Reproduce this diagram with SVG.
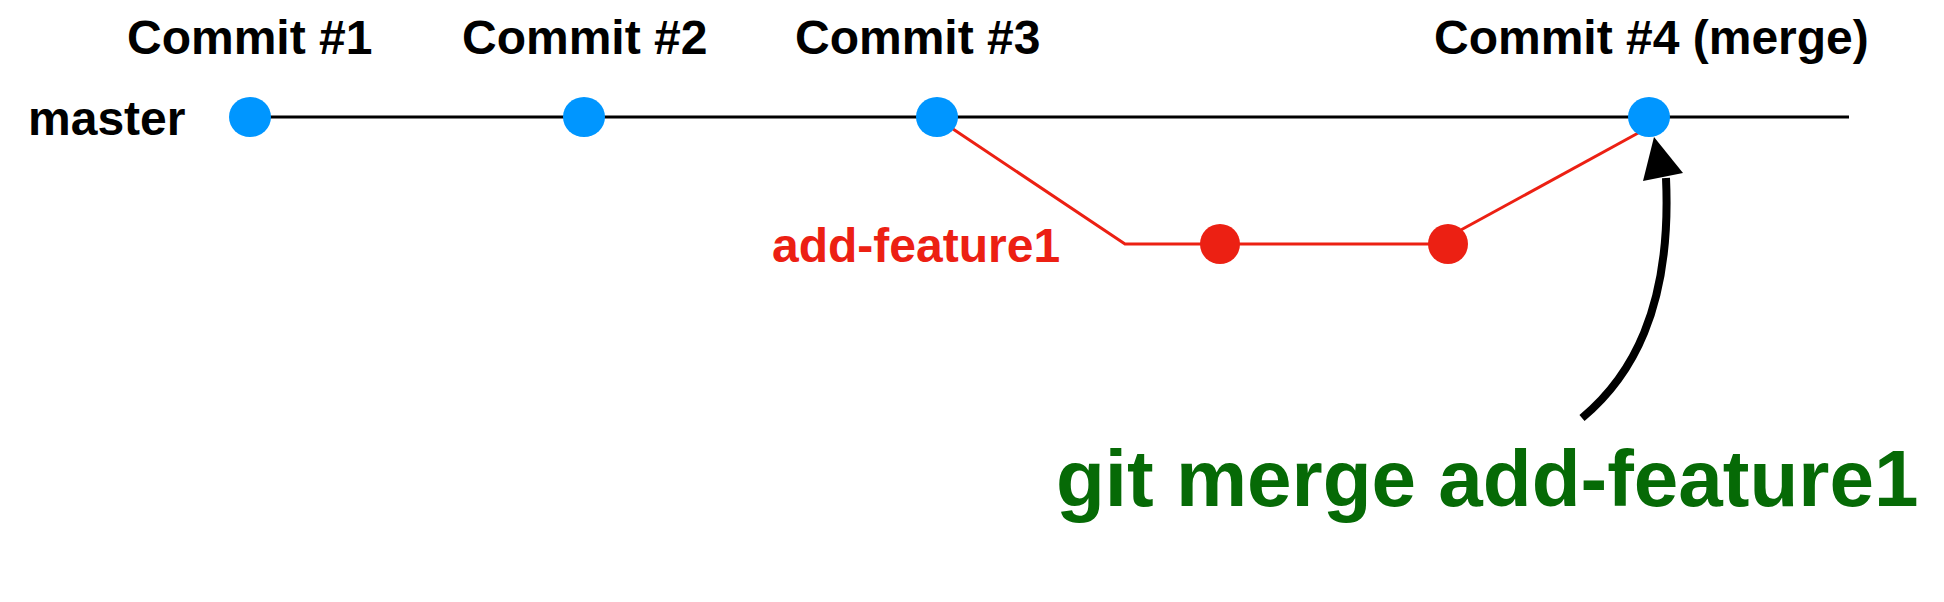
<svg xmlns="http://www.w3.org/2000/svg" width="1944" height="602" viewBox="0 0 1944 602">
<style>
text{font-family:"Liberation Sans",Arial,sans-serif;font-weight:bold}
.lbl{font-size:48px;fill:#000}
.red{font-size:48px;fill:#EC2013}
.cmd{font-size:80px;fill:#066A06}
.master{stroke:#000;stroke-width:3;fill:none}
.branch{stroke:#EC2013;stroke-width:3;fill:none}
.blue{fill:#0096FF}
.rdot{fill:#EC2013}
</style>
<rect width="1944" height="602" fill="#fff"/>
<g id="connectors">
<line class="master" x1="250" y1="117" x2="1849" y2="117"/>
<polyline class="branch" points="944,123 1125,244 1448,244"/>
<line class="branch" x1="1448" y1="237" x2="1640" y2="132"/>
<path d="M1582,418 C1630,378 1672,310 1666,178" stroke="#000" stroke-width="8" fill="none"/>
<polygon points="1654,137 1643,181 1683,173" fill="#000"/>
</g>
<g id="label-master"><text class="lbl" x="28" y="135">master</text></g>
<g id="commit1"><ellipse class="blue" cx="250" cy="117" rx="21" ry="20"/><text class="lbl" x="127" y="54">Commit #1</text></g>
<g id="commit2"><ellipse class="blue" cx="584" cy="117" rx="21" ry="20"/><text class="lbl" x="462" y="54">Commit #2</text></g>
<g id="commit3"><ellipse class="blue" cx="937" cy="117" rx="21" ry="20"/><text class="lbl" x="795" y="54">Commit #3</text></g>
<g id="commit4"><ellipse class="blue" cx="1649" cy="117" rx="21" ry="20"/><text class="lbl" x="1434" y="54">Commit #4 (merge)</text></g>
<g id="label-branch"><text class="red" x="772" y="262">add-feature1</text></g>
<g id="feature1"><ellipse class="rdot" cx="1220" cy="244" rx="20" ry="20"/></g>
<g id="feature2"><ellipse class="rdot" cx="1448" cy="244" rx="20" ry="20"/></g>
<g id="label-cmd"><text class="cmd" x="1056" y="506">git merge add-feature1</text></g>
</svg>
